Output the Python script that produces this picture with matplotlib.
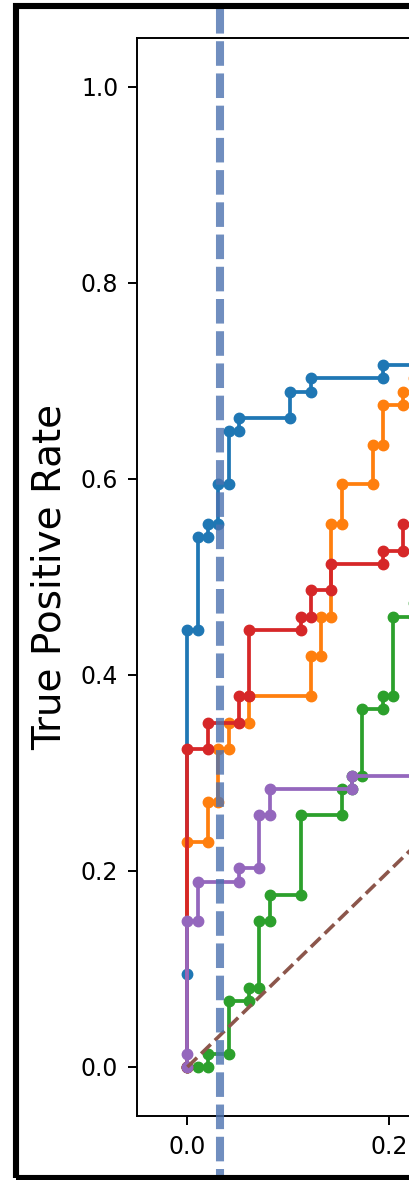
import matplotlib
matplotlib.use("Agg")
import matplotlib.pyplot as plt
from matplotlib.patches import Rectangle
from matplotlib.transforms import blended_transform_factory

# ---- data (ROC curves) ----
blue_fpr = [0, 0, 0, 0.0102, 0.0102, 0.0204, 0.0204, 0.0306, 0.0306, 0.0408, 0.0408, 0.0510, 0.0510,
            0.1020, 0.1020, 0.1224, 0.1224, 0.1939, 0.1939, 0.2857, 0.2857, 0.4184, 0.4184, 0.6327, 0.6327, 1.0]
blue_tpr = [0, 0.0946, 0.4459, 0.4459, 0.5405, 0.5405, 0.5541, 0.5541, 0.5946, 0.5946, 0.6486, 0.6486, 0.6622,
            0.6622, 0.6892, 0.6892, 0.7027, 0.7027, 0.7162, 0.7162, 0.7568, 0.7568, 0.8784, 0.8784, 1.0, 1.0]

orange_fpr = [0, 0, 0.0204, 0.0204, 0.0306, 0.0306, 0.0408, 0.0408, 0.0612, 0.0612, 0.1224, 0.1224, 0.1327,
              0.1327, 0.1429, 0.1429, 0.1531, 0.1531, 0.1837, 0.1837, 0.1939, 0.1939, 0.2143, 0.2143, 0.2245,
              0.2245, 0.2755, 0.2755, 0.4388, 0.4388, 0.7143, 0.7143, 1.0]
orange_tpr = [0, 0.2297, 0.2297, 0.2703, 0.2703, 0.3243, 0.3243, 0.3514, 0.3514, 0.3784, 0.3784, 0.4189, 0.4189,
              0.4595, 0.4595, 0.5541, 0.5541, 0.5946, 0.5946, 0.6351, 0.6351, 0.6757, 0.6757, 0.6892, 0.6892,
              0.7027, 0.7027, 0.7703, 0.7703, 0.9054, 0.9054, 1.0, 1.0]

green_fpr = [0, 0.0102, 0.0204, 0.0204, 0.0408, 0.0408, 0.0612, 0.0612, 0.0714, 0.0714, 0.0816, 0.0816, 0.1122,
             0.1122, 0.1531, 0.1531, 0.1633, 0.1633, 0.1735, 0.1735, 0.1939, 0.1939, 0.2041, 0.2041, 0.2245,
             0.2245, 0.2551, 0.2551, 0.4082, 0.4082, 0.6531, 0.6531, 0.8776, 0.8776, 1.0]
green_tpr = [0, 0, 0, 0.0135, 0.0135, 0.0676, 0.0676, 0.0811, 0.0811, 0.1486, 0.1486, 0.1757, 0.1757,
             0.2568, 0.2568, 0.2838, 0.2838, 0.2973, 0.2973, 0.3649, 0.3649, 0.3784, 0.3784, 0.4595, 0.4595,
             0.4730, 0.4730, 0.5676, 0.5676, 0.7838, 0.7838, 0.9595, 0.9595, 1.0, 1.0]

red_fpr = [0, 0, 0.0204, 0.0204, 0.0510, 0.0510, 0.0612, 0.0612, 0.1122, 0.1122, 0.1224, 0.1224, 0.1429,
           0.1429, 0.1939, 0.1939, 0.2143, 0.2143, 0.2653, 0.2653, 0.4490, 0.4490, 0.7041, 0.7041, 1.0]
red_tpr = [0, 0.3243, 0.3243, 0.3514, 0.3514, 0.3784, 0.3784, 0.4459, 0.4459, 0.4595, 0.4595, 0.4865, 0.4865,
           0.5135, 0.5135, 0.5270, 0.5270, 0.5541, 0.5541, 0.6351, 0.6351, 0.8378, 0.8378, 1.0, 1.0]

purple_fpr = [0, 0, 0, 0.0102, 0.0102, 0.0510, 0.0510, 0.0714, 0.0714, 0.0816, 0.0816, 0.1633, 0.1633,
              0.2959, 0.2959, 0.5102, 0.5102, 0.7653, 0.7653, 1.0]
purple_tpr = [0, 0.0135, 0.1486, 0.1486, 0.1892, 0.1892, 0.2027, 0.2027, 0.2568, 0.2568, 0.2838, 0.2838, 0.2973,
              0.2973, 0.4324, 0.4324, 0.6892, 0.6892, 1.0, 1.0]

chance = [0, 1]
threshold_fpr = 0.032

curves = [(blue_fpr, blue_tpr, "tab:blue"),
          (orange_fpr, orange_tpr, "tab:orange"),
          (green_fpr, green_tpr, "tab:green"),
          (red_fpr, red_tpr, "tab:red"),
          (purple_fpr, purple_tpr, "tab:purple")]

W, H = 410, 1180
fig = plt.figure(figsize=(W / 100, H / 100), dpi=100)
ax = fig.add_axes([137 / W, 64 / H, 1109 / W, 1078 / H])

for fpr, tpr, col in curves:
    ax.plot(fpr, tpr, color=col, lw=2.7, marker="o", ms=7.5)
ax.plot(chance, chance, color="tab:brown", lw=2.6, ls="--")

ax.set_xlim(-0.05, 1.05)
ax.set_ylim(-0.05, 1.05)
ax.set_xticks([0.0, 0.2, 0.4, 0.6, 0.8, 1.0])
ax.set_yticks([0.0, 0.2, 0.4, 0.6, 0.8, 1.0])
ax.tick_params(labelsize=17, length=6.5, width=1.4, pad=7)
for s in ax.spines.values():
    s.set_linewidth(1.4)
ax.set_ylabel("True Positive Rate", fontsize=28, labelpad=9)
ax.set_xlabel("False Positive Rate", fontsize=28)

# vertical threshold line spanning the whole figure height
tr = blended_transform_factory(ax.transData, fig.transFigure)
ax.plot([threshold_fpr, threshold_fpr], [1 - 9 / H, 0], transform=tr, clip_on=False,
        color="#4c72b0", alpha=0.8, lw=5.8, ls=(0, (3.05, 0.95)), zorder=10)

# thick black frame around the figure
fig.add_artist(Rectangle((16 / W, 2 / H), 3.0, (1172) / H, transform=fig.transFigure,
                         fill=False, edgecolor="black", lw=4.4, clip_on=False, zorder=20))

fig.savefig("out.png", dpi=100)
